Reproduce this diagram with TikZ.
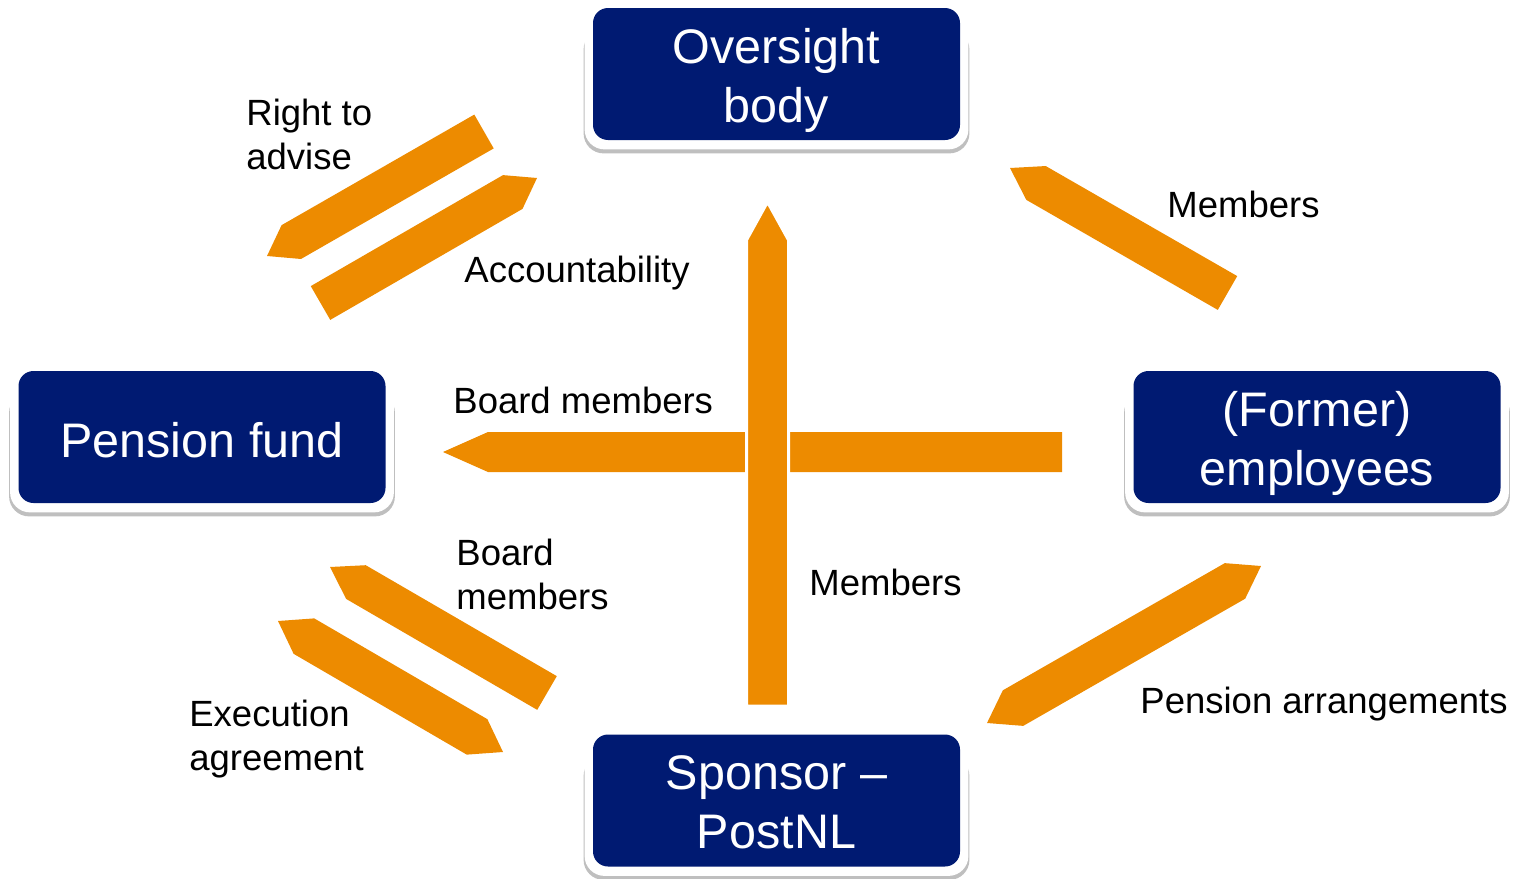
\documentclass[tikz,border=0pt]{standalone}
\usepackage{fontspec}
\setmainfont{Liberation Sans}
\usetikzlibrary{calc,backgrounds}

\definecolor{navy}{RGB}{0,26,114}
\definecolor{flowc}{RGB}{237,139,0}

\tikzset{half band/.store in=\bandw, half band=9.75pt}

% broad band with pointed ends: [options]{tail}{head}{tail tip}{head tip}
\newcommand{\flowband}[5][]{%
  \path ($(#2)!#4!(#3)$) coordinate (fb-t) ($(#3)!#5!(#2)$) coordinate (fb-h);
  \fill[flow,#1] (#2) -- ($(fb-t)!\bandw!90:(#3)$) -- ($(fb-h)!\bandw!-90:(#2)$)
    -- (#3) -- ($(fb-h)!\bandw!90:(#2)$) -- ($(fb-t)!\bandw!-90:(#3)$) -- cycle;}

\begin{document}
\begin{tikzpicture}[x=0.5pt, y=-0.5pt,
  box/.style={fill=navy, rounded corners=7.5pt, minimum width=183.5pt,
    minimum height=66pt, inner sep=0pt},
  boxtext/.style={text=white, align=center, inner sep=0pt,
    font=\fontsize{24.25}{29.5}\selectfont},
  lbl/.style={anchor=base west, align=left, inner sep=0pt,
    font=\fontsize{18.25}{22}\selectfont},
  flow/.style={fill=flowc}]

\useasboundingbox (0,0) rectangle (1513,878);

% the four parties
\node[box, label={[boxtext,yshift=-3pt]center:Oversight\\body}] (oversight) at (776.5,74) {};
\node[box, label={[boxtext,yshift=-1.5pt]center:Pension fund}] (fund) at (202,437) {};
\node[box, label={[boxtext,yshift=-3pt]center:(Former)\\employees}] (staff) at (1317,437) {};
\node[box, label={[boxtext,yshift=-1pt]center:Sponsor --\\PostNL}] (sponsor) at (776.5,800.5) {};

% white frames with a soft edge
\begin{scope}[on background layer]
  \foreach \n in {oversight,fund,staff,sponsor} {
    \fill[gray!50, rounded corners=10pt] ($(\n.north west)+(-9,22)$) rectangle ($(\n.south east)+(9,13)$);
    \fill[white, rounded corners=10pt] ($(\n.north west)+(-8,-8)$) rectangle ($(\n.south east)+(8,9)$);
  }
\end{scope}

% band ends
\coordinate (advise-t) at (484,131.5);   \coordinate (advise-h) at (267,256);
\coordinate (account-t) at (320.5,303);  \coordinate (account-h) at (537,178);
\coordinate (elect-t) at (1227.5,293);   \coordinate (elect-h) at (1010,168);
\coordinate (appoint-t) at (547,693);    \coordinate (appoint-h) at (330,567);
\coordinate (exec-a) at (278,621);       \coordinate (exec-b) at (503,752);
\coordinate (plan-a) at (1261,566);      \coordinate (plan-b) at (987,723);
\coordinate (board-t) at (1062,452);     \coordinate (board-h) at (443,452);
\coordinate (member-t) at (767.5,706);   \coordinate (member-h) at (767.5,202);

\flowband{advise-t}{advise-h}{0pt}{14pt}
\flowband{account-t}{account-h}{0pt}{14pt}
\flowband{elect-t}{elect-h}{0pt}{15pt}
\flowband{appoint-t}{appoint-h}{0pt}{15pt}
\flowband[half band=10.25pt]{exec-a}{exec-b}{15pt}{15pt}
\flowband[half band=10.25pt]{plan-a}{plan-b}{15pt}{15pt}
\flowband[half band=10pt]{board-t}{board-h}{0pt}{22.5pt}
\flowband[half band=10.5pt, draw=white, line width=1.5pt]{member-t}{member-h}{0pt}{19pt}

% labels (two-line ones sit on their last line)
\node[lbl] (l-advise) at (246,169) {Right to\\advise};
\node[lbl] (l-account) at (464,282) {Accountability};
\node[lbl] (l-board) at (453,413) {Board members};
\node[lbl] (l-elect) at (1167,217) {Members};
\node[lbl] (l-member) at (809,595) {Members};
\node[lbl] (l-appoint) at (456,609) {Board\\members};
\node[lbl] (l-exec) at (189,770) {Execution\\agreement};
\node[lbl] (l-plan) at (1140,713) {Pension arrangements};

\end{tikzpicture}
\end{document}
